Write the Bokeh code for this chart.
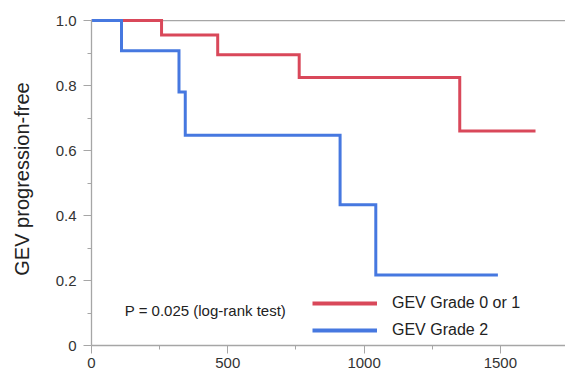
from bokeh.plotting import figure
from bokeh.models import (Range1d, FixedTicker, Span, Legend, LegendItem, Label)
from bokeh.embed import file_html
from bokeh.resources import INLINE

# Kaplan-Meier step data
red_days = [0, 257, 463, 762, 1351, 1629]
red_surv = [1.0, 0.956, 0.895, 0.825, 0.66, 0.66]
blue_days = [0, 110, 321, 344, 912, 1043, 1491]
blue_surv = [1.0, 0.907, 0.78, 0.647, 0.433, 0.217, 0.217]

red_name = "GEV Grade 0 or 1"
blue_name = "GEV Grade 2"
pvalue_text = "P = 0.025 (log-rank test)"

x_ticks = [0, 500, 1000, 1500]
x_minor = [250, 750, 1250]
y_ticks = [0, 0.2, 0.4, 0.6, 0.8, 1.0]
y_minor = [0.1, 0.3, 0.5, 0.7, 0.9]
y_tick_labels = {0: "0", 0.2: "0.2", 0.4: "0.4", 0.6: "0.6", 0.8: "0.8", 1.0: "1.0"}

RED = "#d9485a"
BLUE = "#4678e0"
GRAY = "#a6a6a6"
FONT = "Liberation Sans"
NAN = float("nan")

p = figure(width=565, height=372, output_backend="svg", toolbar_location=None,
           x_range=Range1d(0, 1739), y_range=Range1d(0, 1.025),
           min_border_left=91, min_border_right=0, min_border_top=12, min_border_bottom=27)
p.outline_line_color = None
p.grid.visible = False
p.background_fill_color = "white"
p.border_fill_color = "white"

top = Span(location=1.0, dimension="width", line_color=GRAY, line_width=1.3, level="underlay")
p.add_layout(top)

r_red = p.step(red_days, red_surv, mode="after", line_color=RED, line_width=3, line_join="miter")
r_blue = p.step(blue_days, blue_surv, mode="after", line_color=BLUE, line_width=3, line_join="miter")

# legend proxies (no visible data)
leg_red = p.line([NAN], [NAN], line_color=RED, line_width=4)
leg_blue = p.line([NAN], [NAN], line_color=BLUE, line_width=4)

legend = Legend(items=[LegendItem(label=red_name, renderers=[leg_red]),
                       LegendItem(label=blue_name, renderers=[leg_blue])],
                location=(221, 5), orientation="vertical",
                glyph_width=65, glyph_height=20, label_height=20, spacing=7,
                label_standoff=15, padding=0, margin=0,
                border_line_color=None, background_fill_alpha=0,
                label_text_font=FONT, label_text_font_size="16px", label_text_color="#222222")
p.add_layout(legend)

p.add_layout(Label(x=122, y=0.109, text=pvalue_text, text_font=FONT, text_font_size="15px",
                   text_baseline="middle", text_color="#222222"))

# axes
p.xaxis.ticker = FixedTicker(ticks=x_ticks, minor_ticks=x_minor)
p.yaxis.ticker = FixedTicker(ticks=y_ticks, minor_ticks=y_minor)
p.yaxis.major_label_overrides = y_tick_labels
p.yaxis.bounds = (0, 1.0)
for ax in (p.xaxis, p.yaxis):
    ax.axis_line_color = GRAY
    ax.axis_line_width = 1.3
    ax.major_tick_line_color = GRAY
    ax.minor_tick_line_color = GRAY
    ax.major_tick_in = 0
    ax.minor_tick_in = 0
    ax.major_tick_out = 8
    ax.minor_tick_out = 4
    ax.major_label_text_font = FONT
    ax.major_label_text_font_size = "15px"
    ax.major_label_text_color = "#333333"
p.xaxis.major_label_standoff = 4
p.yaxis.major_label_standoff = 7
p.yaxis.axis_label = "GEV progression-free"
p.yaxis.axis_label_text_font = FONT
p.yaxis.axis_label_text_font_size = "20px"
p.yaxis.axis_label_text_font_style = "normal"
p.yaxis.axis_label_text_color = "#222222"
p.yaxis.axis_label_standoff = 20

open("out.html", "w").write(file_html(p, INLINE))
